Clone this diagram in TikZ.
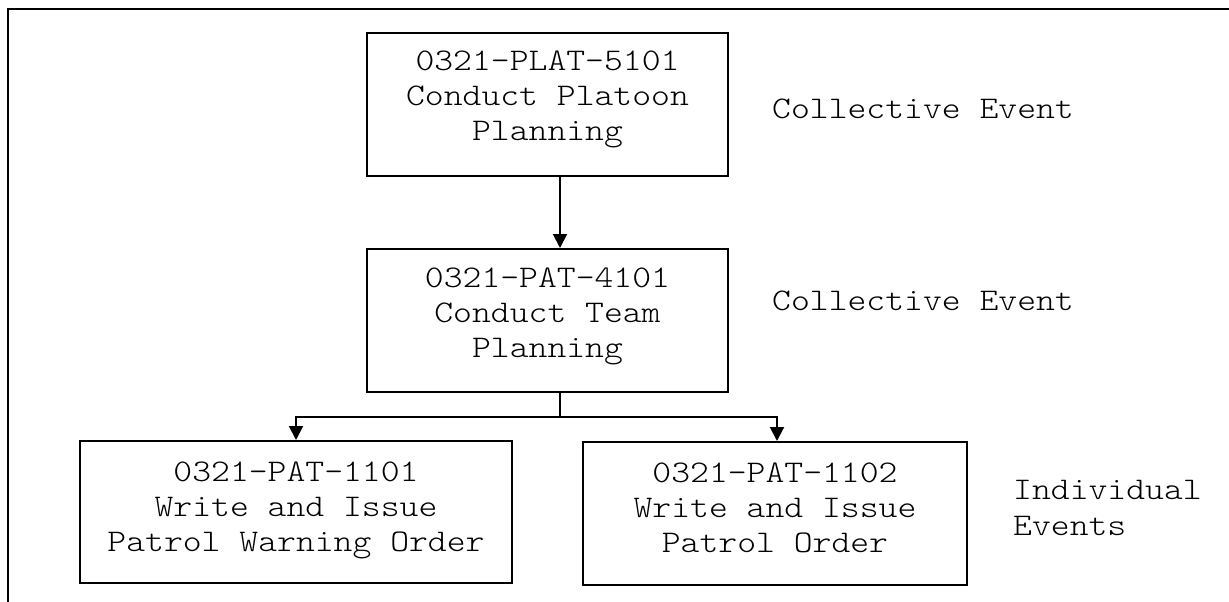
\documentclass[tikz,border=0pt]{standalone}
\usepackage{fontspec}
\newfontfamily\couriertext[FakeStretch=1.14]{lmmonolt10-regular.otf}
\usetikzlibrary{arrows.meta}

\tikzset{
	eventbox/.style={draw, line width=2pt, inner sep=0pt, minimum height=143pt},
	eventtext/.style={anchor=north, inner sep=0pt, align=center,
		font=\couriertext\fontsize{31.5}{35}\selectfont},
	eventlabel/.style={anchor=base west, inner sep=0pt, align=left,
		font=\couriertext\fontsize{31.5}{36}\selectfont},
	arr/.style={line width=2pt, -{Triangle[length=14pt,width=14pt]}}
}

\begin{document}
\begin{tikzpicture}[x=1pt,y=-1pt]
	\useasboundingbox (0,0) rectangle (1229,602);

	% frame
	\draw[line width=2pt] (8,602) -- (8,9) -- (1229,9);

	% boxes
	\node[eventbox, minimum width=361pt] (plat) at (547.5,104.5) {};
	\node[eventbox, minimum width=361pt] (team) at (547.5,320.5) {};
	\node[eventbox, minimum width=432pt, minimum height=142pt] (warn) at (296,512) {};
	\node[eventbox, minimum width=384pt] (order) at (775,513.5) {};

	% box texts
	\node[eventtext, yshift=-19pt] (platText) at (plat.north)
		{0321-PLAT-5101\\Conduct Platoon\\Planning};
	\node[eventtext, yshift=-20pt] (teamText) at (team.north)
		{0321-PAT-4101\\Conduct Team\\Planning};
	\node[eventtext, yshift=-22pt] (warnText) at (warn.north)
		{0321-PAT-1101\\Write and Issue\\Patrol Warning Order};
	\node[eventtext, yshift=-22pt] (orderText) at (order.north)
		{0321-PAT-1102\\Write and Issue\\Patrol Order};

	% side labels (base = last line)
	\node[eventlabel] (lplat) at (772,118) {Collective Event};
	\node[eventlabel] (lteam) at (772,310) {Collective Event};
	\node[eventlabel] (lind) at (1013,535) {Individual\\Events};

	% connectors
	\coordinate (split) at (560,417);
	\draw[arr] (plat.south -| split) -- (team.north -| split);
	\draw[line width=2pt] (team.south -| split) -- (split);
	\draw[arr] (split) -| (warn.north);
	\draw[arr] (split) -| ([xshift=2pt]order.north);
\end{tikzpicture}
\end{document}
